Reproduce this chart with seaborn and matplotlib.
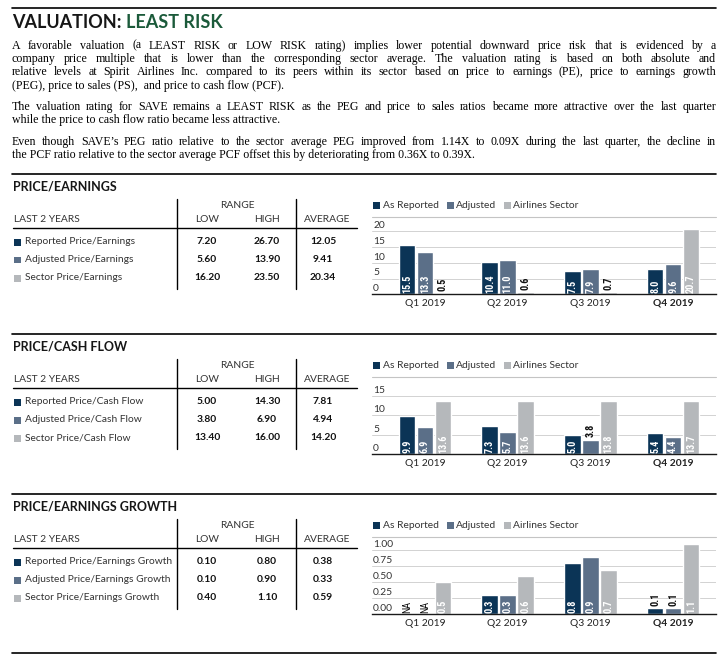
import numpy as np
import pandas as pd
import matplotlib
matplotlib.use('Agg')
import matplotlib.pyplot as plt
import matplotlib.transforms as mtransforms
import seaborn as sns
from matplotlib import font_manager
from matplotlib.lines import Line2D
from matplotlib.patches import Rectangle

# ---------------- data ----------------
quarters = ['Q1 2019', 'Q2 2019', 'Q3 2019', 'Q4 2019']
series = ['As Reported', 'Adjusted', 'Airlines Sector']
colors = ['#0b3456', '#5b6f88', '#b5b8bb']

pe_reported = [15.5, 10.4, 7.5, 8.0]
pe_adjusted = [13.3, 11.0, 7.9, 9.6]
pe_sector = [0.5, 0.6, 0.7, 20.7]

pcf_reported = [9.9, 7.3, 5.0, 5.4]
pcf_adjusted = [6.9, 5.7, 3.8, 4.4]
pcf_sector = [13.6, 13.6, 13.8, 13.7]

peg_reported = [np.nan, 0.3, 0.8, 0.1]
peg_adjusted = [np.nan, 0.3, 0.9, 0.1]
peg_sector = [0.5, 0.6, 0.7, 1.1]

pe_ticks = [0, 5, 10, 15, 20]
pe_tick_labels = ['0', '5', '10', '15', '20']
pcf_ticks = [0, 5, 10, 15]
pcf_tick_labels = ['0', '5', '10', '15']
peg_ticks = [0, 0.25, 0.5, 0.75, 1.0]
peg_tick_labels = ['0.00', '0.25', '0.50', '0.75', '1.00']

pe_rows = ['Reported Price/Earnings', 'Adjusted Price/Earnings', 'Sector Price/Earnings']
pe_low = ['7.20', '5.60', '16.20']
pe_high = ['26.70', '13.90', '23.50']
pe_avg = ['12.05', '9.41', '20.34']

pcf_rows = ['Reported Price/Cash Flow', 'Adjusted Price/Cash Flow', 'Sector Price/Cash Flow']
pcf_low = ['5.00', '3.80', '13.40']
pcf_high = ['14.30', '6.90', '16.00']
pcf_avg = ['7.81', '4.94', '14.20']

peg_rows = ['Reported Price/Earnings Growth', 'Adjusted Price/Earnings Growth',
            'Sector Price/Earnings Growth']
peg_low = ['0.10', '0.10', '0.40']
peg_high = ['0.80', '0.90', '1.10']
peg_avg = ['0.38', '0.33', '0.59']

section_titles = ['PRICE/EARNINGS', 'PRICE/CASH FLOW', 'PRICE/EARNINGS GROWTH']

body_lines = [
    ("A favorable valuation (a LEAST RISK or LOW RISK rating) implies lower potential downward price risk that is evidenced by a", True),
    ("company price multiple that is lower than the corresponding sector average. The valuation rating is based on both absolute and", True),
    ("relative levels at Spirit Airlines Inc. compared to its peers within its sector based on price to earnings (PE), price to earnings growth", True),
    ("(PEG), price to sales (PS),  and price to cash flow (PCF).", False),
    ("The valuation rating for SAVE remains a LEAST RISK as the PEG and price to sales ratios became more attractive over the last quarter", True),
    ("while the price to cash flow ratio became less attractive.", False),
    ("Even though SAVE\u2019s PEG ratio relative to the sector average PEG improved from 1.14X to 0.09X during the last quarter, the decline in", True),
    ("the PCF ratio relative to the sector average PCF offset this by deteriorating from 0.36X to 0.39X.", False),
]
body_y = [45, 58.3, 71.6, 85, 106.5, 119.8, 141, 154.3]

# ---------------- fonts ----------------
sns.set_style('white')
avail = {f.name for f in font_manager.fontManager.ttflist}


def pick(*names):
    for n in names:
        if n in avail:
            return n
    return 'DejaVu Sans'


SANS = pick('Lato', 'Open Sans', 'Noto Sans', 'DejaVu Sans')
NARROW = pick('Liberation Sans Narrow', 'Roboto Condensed', 'Lato', 'DejaVu Sans')
SERIF = pick('Liberation Serif', 'DejaVu Serif')
plt.rcParams['font.family'] = [SANS, 'DejaVu Sans']

W, H = 726, 657
fig = plt.figure(figsize=(W / 100, H / 100), dpi=100)
fig.patch.set_facecolor('white')
renderer = fig.canvas.get_renderer()


def fx(x):
    return x / W


def fy(y):
    return 1 - y / H


def hline(x0, x1, y, color='black', lw=1.0):
    fig.add_artist(Line2D([fx(x0), fx(x1)], [fy(y), fy(y)], color=color, lw=lw,
                          transform=fig.transFigure))


def vline(x, y0, y1, color='black', lw=1.0):
    fig.add_artist(Line2D([fx(x), fx(x)], [fy(y0), fy(y1)], color=color, lw=lw,
                          transform=fig.transFigure))


def square(x, yc, size, color):
    fig.add_artist(Rectangle((fx(x), fy(yc + size / 2)), size / W, size / H,
                             facecolor=color, edgecolor='none', transform=fig.transFigure))


def txt(x, y, s, **kw):
    kw.setdefault('va', 'center')
    return fig.text(fx(x), fy(y), s, **kw)


# ---------------- header ----------------
hline(12, 716, 7.5, lw=1.2)
t1 = txt(12, 22, 'VALUATION: ', fontsize=13, fontweight='bold', color='#161616', family=[SANS])
w1 = t1.get_window_extent(renderer).width
txt(12 + w1, 22, 'LEAST RISK', fontsize=13, fontweight='bold', color='#1b5a3a', family=[SANS])

# justified body text
BODY_FS = 8.6
for (line, just), yc in zip(body_lines, body_y):
    yb = yc + 3.6
    if not just:
        fig.text(fx(12), fy(yb), line, fontsize=BODY_FS, family=[SERIF], va='baseline',
                 color='#000000')
        continue
    words = line.split()
    objs = [fig.text(0, fy(yb), w, fontsize=BODY_FS, family=[SERIF], va='baseline',
                     color='#000000') for w in words]
    widths = [o.get_window_extent(renderer).width for o in objs]
    gap = (716 - 12 - sum(widths)) / (len(words) - 1)
    x = 12.0
    for o, wd in zip(objs, widths):
        o.set_x(fx(x))
        x += wd + gap

# ---------------- tables ----------------
tables = [
    (pe_rows, pe_low, pe_high, pe_avg),
    (pcf_rows, pcf_low, pcf_high, pcf_avg),
    (peg_rows, peg_low, peg_high, peg_avg),
]
TFS = 7.4
for i, (rows, low, high, avg) in enumerate(tables):
    off = 160 * i
    hline(12, 716, 174 + off, lw=1.2)
    txt(13, 186.5 + off, section_titles[i], fontsize=9, fontweight='bold', color='#161616')
    vline(177, 199 + off, 288.5 + off)
    vline(296, 199 + off, 288.5 + off)
    txt(237, 205 + off, 'RANGE', ha='center', fontsize=TFS, color='#333333')
    txt(13.5, 219.5 + off, 'LAST 2 YEARS', fontsize=TFS, color='#333333')
    txt(207, 219.5 + off, 'LOW', ha='center', fontsize=TFS, color='#333333')
    txt(267, 219.5 + off, 'HIGH', ha='center', fontsize=TFS, color='#333333')
    txt(327, 219.5 + off, 'AVERAGE', ha='center', fontsize=TFS, color='#333333')
    hline(13, 357, 228.3 + off, lw=1.0)
    for r, yc in enumerate([242, 260, 278]):
        square(14.3, yc + off, 7, colors[r])
        txt(25, yc + off, rows[r], fontsize=TFS, color='#333333')
        txt(207, yc + off, low[r], ha='center', fontsize=TFS, fontweight='bold', color='#111111')
        txt(267, yc + off, high[r], ha='center', fontsize=TFS, fontweight='bold', color='#111111')
        txt(323, yc + off, avg[r], ha='center', fontsize=TFS, fontweight='bold', color='#111111')

# ---------------- charts ----------------
charts = [
    (pe_reported, pe_adjusted, pe_sector, pe_ticks, pe_tick_labels, 21.8, 3.15),
    (pcf_reported, pcf_adjusted, pcf_sector, pcf_ticks, pcf_tick_labels, 16.5, 3.89),
    (peg_reported, peg_adjusted, peg_sector, peg_ticks, peg_tick_labels, 1.14, 64.0),
]
BAR_W = 0.65
LFS = 7.4
for i, (rep, adj, sec, ticks, tlabels, ymax, ppu) in enumerate(charts):
    off = 160 * i
    # legend
    for name, col, sx, tx in zip(series, colors, [373, 446.5, 503.5], [382.7, 455.7, 513]):
        square(sx, 205.5 + off, 7, col)
        txt(tx, 205 + off, name, fontsize=LFS, color='#333333')
    hline(372, 716, 216.7 + off, color='#c4c4c4', lw=0.8)

    base = 294.3 + off
    hpx = ymax * ppu
    ax = fig.add_axes([fx(372), fy(base), (716 - 372) / W, hpx / H])
    df = pd.DataFrame({
        'quarter': quarters * 3,
        'series': [s for s in series for _ in quarters],
        'value': list(rep) + list(adj) + list(sec),
    })
    sns.barplot(data=df, x='quarter', y='value', hue='series', order=quarters,
                hue_order=series, palette=colors, width=BAR_W, gap=0.07,
                saturation=1, errorbar=None, legend=False, ax=ax)
    ax.set_xlim(-0.641, 3.52)
    ax.set_ylim(0, ymax)
    ax.set_xlabel('')
    ax.set_ylabel('')
    ax.set_yticks(ticks)
    ax.set_yticklabels([])
    ax.tick_params(axis='y', length=0)
    ax.tick_params(axis='x', length=0, pad=3.2, labelsize=LFS, labelcolor='#222222')
    ax.yaxis.grid(True, color='#d2d2d2', lw=0.7)
    ax.set_axisbelow(True)
    for sp in ['top', 'left', 'right']:
        ax.spines[sp].set_visible(False)
    ax.spines['bottom'].set_color('#1a1a1a')
    ax.spines['bottom'].set_linewidth(1.0)
    ax.set_facecolor('none')
    ax.get_xticklabels()[3].set_fontweight('bold')

    ytrans = mtransforms.blended_transform_factory(ax.transAxes, ax.transData)
    for t, lab in zip(ticks, tlabels):
        ax.annotate(lab, (0, t), xycoords=ytrans, xytext=(0.8, 0.9), textcoords='offset points',
                    ha='left', va='bottom', fontsize=LFS, color='#333333')

    # value labels
    for h_idx, cont in enumerate(ax.containers):
        for bar in cont:
            hgt = bar.get_height()
            if not np.isfinite(hgt) or hgt == 0:
                continue
            xc = bar.get_x() + bar.get_width() / 2
            s = f'{hgt:.1f}'
            if hgt * ppu > 16:
                ax.annotate(s, (xc, 0), xytext=(0, 1.0), textcoords='offset points',
                            rotation=90, ha='center', va='bottom', color='white',
                            fontweight='bold', fontsize=7.4, family=[NARROW])
            else:
                ax.annotate(s, (xc, hgt), xytext=(0, 1.5), textcoords='offset points',
                            rotation=90, ha='center', va='bottom', color='#111111',
                            fontweight='bold', fontsize=7.4, family=[NARROW])
    # NA labels for missing values
    for h_idx, vals in enumerate([rep, adj, sec]):
        for q_idx, v in enumerate(vals):
            if not np.isfinite(v):
                xc = q_idx + (h_idx - 1) * BAR_W / 3
                ax.annotate('NA', (xc, 0), xytext=(0, 1.0), textcoords='offset points',
                            rotation=90, ha='center', va='bottom', color='#111111',
                            fontsize=7.4, family=[NARROW])

hline(12, 716, 653.3, lw=1.2)

fig.savefig('out.png', dpi=100, facecolor='white')
